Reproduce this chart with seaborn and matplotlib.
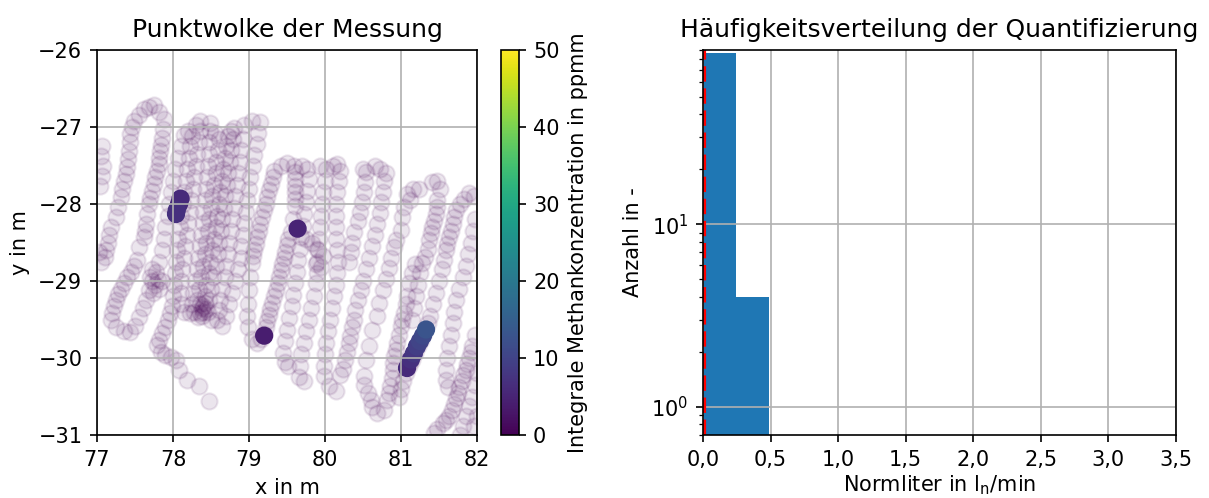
import numpy as np
import pandas as pd
import matplotlib
matplotlib.use("Agg")
import matplotlib.pyplot as plt
import seaborn as sns
from matplotlib.colors import Normalize
from matplotlib.cm import ScalarMappable

track_west = [
    # Rand links
    (77.07, -27.25), (77.05, -27.38), (77.08, -27.5), (77.06, -27.63), (77.04, -27.76),
    (77.03, -28.62), (77.05, -28.75),
    # Bahn S1
    (77.62, -26.77), (77.55, -26.84), (77.49, -26.92), (77.46, -27.0), (77.44, -27.09),
    (77.43, -27.2), (77.42, -27.31), (77.41, -27.42), (77.4, -27.52), (77.38, -27.61),
    (77.36, -27.7), (77.33, -27.8), (77.31, -27.91), (77.28, -28.04), (77.25, -28.17),
    (77.18, -28.3), (77.16, -28.4), (77.14, -28.51), (77.12, -28.6), (77.11, -28.69),
    # Bahn S2
    (77.68, -26.74), (77.75, -26.71), (77.82, -26.8), (77.88, -26.9), (77.87, -27.02),
    (77.86, -27.14), (77.84, -27.23), (77.83, -27.31), (77.82, -27.4), (77.82, -27.48),
    (77.79, -27.57), (77.77, -27.65), (77.75, -27.74), (77.73, -27.83), (77.7, -27.92),
    (77.68, -28.0), (77.66, -28.13), (77.64, -28.26), (77.63, -28.35), (77.62, -28.43),
    (77.55, -28.56), (77.53, -28.73), (77.49, -28.8), (77.45, -28.88), (77.4, -28.95),
    (77.36, -29.02), (77.32, -29.1), (77.28, -29.17), (77.25, -29.25), (77.22, -29.33),
    (77.2, -29.42), (77.18, -29.5), (77.25, -29.6), (77.35, -29.65), (77.44, -29.66),
    # Bahn S3
    (77.5, -29.58), (77.55, -29.47), (77.6, -29.35), (77.64, -29.25), (77.68, -29.12),
    (77.73, -29.0), (77.78, -28.88), (77.82, -28.75), (77.85, -28.6), (77.88, -28.45),
    (77.9, -28.3), (77.93, -28.15), (77.95, -28.0), (77.98, -27.85), (78.0, -27.7),
    (78.03, -27.55), (78.06, -27.4), (78.1, -27.25), (78.14, -27.1), (78.2, -27.05),
    (77.7, -28.95), (77.76, -29.05), (77.82, -29.1), (77.8, -28.98), (77.74, -29.15),
    (77.86, -29.0), (77.72, -28.85),
]

track_core = [
    # D2 mit Auslauf nach unten rechts
    (78.25, -27.12), (78.23, -27.25), (78.21, -27.4), (78.19, -27.55), (78.17, -27.7),
    (78.15, -27.85), (78.13, -28.0), (78.11, -28.15), (78.09, -28.3), (78.07, -28.45),
    (78.05, -28.6), (78.04, -28.75), (78.03, -28.9), (78.02, -29.05), (78.0, -29.2),
    (77.99, -29.33), (77.96, -29.42), (77.93, -29.5), (77.9, -29.6), (77.86, -29.68),
    (77.82, -29.76), (77.79, -29.83), (77.84, -29.92), (77.9, -29.96), (77.97, -29.99),
    (78.04, -30.02), (78.08, -30.15), (78.19, -30.28), (78.34, -30.37), (78.47, -30.56),
    # D3
    (78.3, -26.97), (78.36, -26.92), (78.35, -27.05), (78.34, -27.2), (78.32, -27.35),
    (78.3, -27.5), (78.28, -27.65), (78.26, -27.8), (78.24, -27.95), (78.22, -28.1),
    (78.2, -28.25), (78.18, -28.4), (78.16, -28.55), (78.14, -28.7), (78.12, -28.85),
    (78.11, -29.0), (78.1, -29.15), (78.1, -29.3), (78.15, -29.4),
    # D4
    (78.22, -29.42), (78.25, -29.3), (78.27, -29.15), (78.29, -29.0), (78.31, -28.85),
    (78.33, -28.7), (78.35, -28.55), (78.37, -28.4), (78.39, -28.25), (78.4, -28.1),
    (78.42, -27.95), (78.43, -27.8), (78.45, -27.65), (78.46, -27.5), (78.47, -27.35),
    (78.48, -27.2), (78.49, -27.05), (78.49, -26.95),
    # D5
    (78.55, -27.08), (78.6, -27.15), (78.59, -27.3), (78.57, -27.45), (78.56, -27.6),
    (78.54, -27.75), (78.52, -27.9), (78.5, -28.05), (78.48, -28.2), (78.46, -28.35),
    (78.44, -28.5), (78.42, -28.65), (78.4, -28.8), (78.37, -28.95), (78.34, -29.1),
    (78.31, -29.25), (78.28, -29.4), (78.33, -29.47),
    # D6
    (78.38, -29.45), (78.4, -29.33), (78.42, -29.2), (78.44, -29.05), (78.47, -28.9),
    (78.49, -28.75), (78.52, -28.6), (78.54, -28.45), (78.56, -28.3), (78.58, -28.15),
    (78.6, -28.0), (78.62, -27.85), (78.64, -27.7), (78.66, -27.55), (78.68, -27.4),
    (78.7, -27.25), (78.72, -27.12), (78.76, -27.05),
    # D7
    (78.8, -27.01), (78.79, -27.15), (78.77, -27.3), (78.75, -27.45), (78.73, -27.6),
    (78.71, -27.75), (78.69, -27.9), (78.67, -28.05), (78.65, -28.2), (78.63, -28.35),
    (78.61, -28.5), (78.59, -28.65), (78.56, -28.8), (78.53, -28.95), (78.5, -29.1),
    (78.48, -29.25), (78.46, -29.4), (78.5, -29.5),
    # D8
    (78.58, -29.51), (78.6, -29.38), (78.62, -29.25), (78.65, -29.1), (78.68, -28.95),
    (78.7, -28.8), (78.72, -28.65), (78.74, -28.5), (78.76, -28.35), (78.78, -28.2),
    (78.8, -28.05), (78.82, -27.9), (78.84, -27.75), (78.86, -27.6), (78.88, -27.45),
    (78.9, -27.3), (78.92, -27.15), (78.93, -26.98),
    # D9
    (79.04, -26.92), (79.15, -26.94), (79.12, -27.08), (79.1, -27.22), (79.07, -27.36),
    (79.05, -27.5), (79.02, -27.65), (79.0, -27.8), (78.98, -27.95), (78.96, -28.1),
    (78.94, -28.25), (78.92, -28.4), (78.9, -28.55), (78.89, -28.7), (78.86, -28.85),
    (78.82, -29.0), (78.78, -29.15), (78.74, -29.3), (78.7, -29.45), (78.65, -29.59),
    # dichte Stelle unten
    (78.38, -29.35), (78.4, -29.4), (78.36, -29.3), (78.42, -29.28), (78.35, -29.42),
    (78.44, -29.36),
]

track_centre = [
    # M1
    (79.33, -27.57), (79.31, -27.65), (79.29, -27.74), (79.27, -27.82), (79.24, -27.91),
    (79.22, -28.0), (79.2, -28.08), (79.17, -28.17), (79.15, -28.26), (79.13, -28.35),
    (79.11, -28.43), (79.09, -28.52), (79.07, -28.6), (79.05, -28.68), (79.04, -28.77),
    (79.02, -28.95), (79.0, -29.12), (78.99, -29.3), (78.98, -29.45), (78.99, -29.6),
    (79.04, -29.75), (79.1, -29.81),
    # M2
    (79.16, -29.75), (79.2, -29.69), (79.22, -29.6), (79.24, -29.52), (79.26, -29.44),
    (79.28, -29.36), (79.3, -29.28), (79.33, -29.2), (79.36, -29.12), (79.38, -29.03),
    (79.4, -28.95), (79.42, -28.86), (79.44, -28.78), (79.46, -28.7), (79.48, -28.62),
    (79.5, -28.53), (79.52, -28.45), (79.55, -28.37), (79.58, -28.2), (79.6, -28.03),
    (79.6, -27.94), (79.61, -27.85), (79.61, -27.77), (79.61, -27.68), (79.6, -27.59),
    (79.59, -27.5), (79.5, -27.47), (79.42, -27.5),
    # M3
    (79.7, -27.5), (79.77, -27.55), (79.79, -27.68), (79.77, -27.83), (79.75, -27.98),
    (79.73, -28.13), (79.71, -28.28), (79.69, -28.43), (79.67, -28.58), (79.65, -28.73),
    (79.63, -28.88), (79.61, -29.03), (79.58, -29.18), (79.56, -29.33), (79.53, -29.48),
    (79.5, -29.63), (79.47, -29.78), (79.45, -29.93), (79.47, -30.05), (79.51, -30.11),
    # Haken
    (79.75, -28.45), (79.83, -28.5), (79.9, -28.58), (79.97, -28.68), (79.95, -28.82),
    (79.88, -28.78),
    # M4
    (79.93, -27.5), (80.01, -27.55), (80.0, -27.7), (79.98, -27.85), (79.96, -28.0),
    (79.95, -28.15), (79.93, -28.3), (79.92, -28.45), (79.91, -28.6), (79.9, -28.75),
    (79.9, -28.9), (79.88, -29.03), (79.85, -29.2), (79.82, -29.35), (79.79, -29.5),
    (79.75, -29.65), (79.72, -29.8), (79.69, -29.95), (79.67, -30.1), (79.66, -30.25),
    (79.72, -30.3),
    # M5
    (80.1, -27.5), (80.16, -27.48), (80.2, -27.57), (80.18, -27.7), (80.16, -27.85),
    (80.15, -28.0), (80.15, -28.15), (80.14, -28.3), (80.15, -28.45), (80.16, -28.6),
    (80.17, -28.75), (80.16, -28.9), (80.14, -29.05), (80.12, -29.2), (80.09, -29.35),
    (80.06, -29.5), (80.04, -29.65), (80.02, -29.8), (80.0, -29.95), (79.99, -30.1),
    (79.99, -30.24), (80.05, -30.36), (80.14, -30.43),
]

track_east = [
    # N1
    (80.5, -27.55), (80.54, -27.59), (80.53, -27.72), (80.52, -27.85), (80.49, -27.98),
    (80.46, -28.1), (80.44, -28.22), (80.38, -28.36), (80.36, -28.5), (80.34, -28.62),
    (80.32, -28.75),
    # N2
    (80.66, -27.5), (80.73, -27.55), (80.8, -27.6), (80.78, -27.7), (80.76, -27.84),
    (80.74, -27.98), (80.72, -28.12), (80.69, -28.26), (80.66, -28.4), (80.62, -28.54),
    (80.58, -28.7), (80.54, -28.85), (80.5, -29.0), (80.47, -29.12), (80.44, -29.25),
    (80.4, -29.38), (80.38, -29.5), (80.36, -29.6), (80.33, -29.72), (80.31, -29.81),
    (80.29, -29.92), (80.27, -30.03), (80.24, -30.14), (80.2, -30.22),
    # Z2
    (81.08, -27.87), (81.16, -27.8), (81.24, -27.8), (81.12, -27.95), (81.04, -28.04),
    (81.02, -28.17), (81.0, -28.34), (80.93, -28.47), (80.91, -28.56), (80.87, -28.7),
    (80.84, -28.83), (80.8, -28.97), (80.76, -29.12), (80.71, -29.29), (80.69, -29.46),
    (80.62, -29.63), (80.58, -29.85), (80.54, -30.02), (80.51, -30.24), (80.52, -30.35),
    (80.56, -30.45), (80.6, -30.55), (80.62, -30.63), (80.69, -30.71), (80.78, -30.67),
    # N3
    (80.82, -30.54), (80.84, -30.45), (80.86, -30.37), (80.88, -30.26), (80.89, -30.15),
    (80.9, -30.07), (80.91, -29.98), (80.93, -29.9), (80.95, -29.81), (80.97, -29.7),
    (81.0, -29.59), (81.02, -29.5), (81.04, -29.42), (81.06, -29.3), (81.08, -29.2),
    (81.1, -29.03), (81.14, -28.9), (81.18, -28.78),
    # Z3
    (81.41, -27.72), (81.47, -27.7), (81.52, -27.8), (81.48, -27.95), (81.47, -28.04),
    (81.46, -28.13), (81.44, -28.22), (81.41, -28.3), (81.39, -28.38), (81.37, -28.47),
    (81.35, -28.58), (81.32, -28.69), (81.28, -28.77), (81.25, -28.9), (81.22, -29.05),
    (81.2, -29.2), (81.17, -29.35), (81.15, -29.5),
    # Z4
    (81.83, -27.93), (81.9, -27.86), (81.96, -27.89), (81.78, -28.0), (81.72, -28.08),
    (81.7, -28.17), (81.68, -28.26), (81.66, -28.35), (81.63, -28.43), (81.61, -28.52),
    (81.59, -28.6), (81.57, -28.73), (81.54, -28.85), (81.5, -29.0), (81.46, -29.15),
    (81.42, -29.3), (81.38, -29.45), (81.35, -29.55), (81.3, -29.67), (81.26, -29.76),
    (81.22, -29.85), (81.18, -29.93), (81.14, -30.02), (81.1, -30.1), (81.06, -30.2),
    (81.03, -30.3), (81.0, -30.4), (80.97, -30.5),
    # Z5
    (81.98, -28.2), (81.95, -28.35), (81.92, -28.5), (81.88, -28.65), (81.85, -28.8),
    (81.81, -28.95), (81.77, -29.1), (81.72, -29.25), (81.7, -29.4), (81.68, -29.55),
    (81.66, -29.7), (81.63, -29.85), (81.6, -30.0), (81.59, -30.15), (81.59, -30.28),
    (81.62, -30.38),
    # Z6
    (81.97, -29.7), (81.94, -29.85), (81.92, -29.92), (81.9, -30.0), (81.87, -30.08),
    (81.85, -30.15), (81.82, -30.22), (81.8, -30.3), (81.77, -30.38), (81.75, -30.45),
    (81.72, -30.52), (81.7, -30.6), (81.67, -30.68), (81.63, -30.75), (81.59, -30.8),
    (81.55, -30.85), (81.48, -30.92), (81.43, -30.97),
    # Z7
    (82.0, -30.2), (81.97, -30.35), (81.94, -30.5), (81.9, -30.62), (81.86, -30.75),
    (81.82, -30.88), (81.78, -31.0), (82.0, -30.75), (81.96, -30.88),
]

# Punkte mit erhöhter Konzentration
hot_x = [78.1, 78.08, 78.05, 78.04, 79.64, 79.2, 81.08, 81.13, 81.17, 81.21, 81.25, 81.29, 81.33]
hot_y = [-27.93, -28.0, -28.08, -28.13, -28.32, -29.71, -30.13, -30.02, -29.94, -29.85, -29.78, -29.71, -29.63]
hot_ppmm = [6, 6, 7, 7, 5, 4, 6, 7, 8, 9, 10, 11, 13]

# Histogramm der Quantifizierung
quant_bin_edges = [0.0, 0.245, 0.49]
quant_counts = [87, 4]
reference_rate = 0.01
hist_xticks = [0.0, 0.5, 1.0, 1.5, 2.0, 2.5, 3.0, 3.5]
hist_xticklabels = ['0,0', '0,5', '1,0', '1,5', '2,0', '2,5', '3,0', '3,5']


def main():
    df_faint = pd.DataFrame(track_west + track_core + track_centre + track_east, columns=['x', 'y'])
    df_hot = pd.DataFrame({'x': hot_x, 'y': hot_y, 'ppmm': hot_ppmm})
    edges = np.array(quant_bin_edges)
    df_hist = pd.DataFrame({'rate': (edges[:-1] + edges[1:]) / 2, 'n': quant_counts})

    fig = plt.figure(figsize=(8.06, 3.32), dpi=150)
    ax1 = fig.add_axes([0.0802, 0.1265, 0.3143, 0.7731])
    cax = fig.add_axes([0.4140, 0.1265, 0.0149, 0.7731])
    ax2 = fig.add_axes([0.5815, 0.1265, 0.3912, 0.7731])

    # --- Punktwolke ---
    sns.scatterplot(data=df_faint, x='x', y='y', color=plt.cm.viridis(0.0), s=60,
                    alpha=0.1, edgecolor='face', linewidth=1.0, ax=ax1, legend=False)
    sns.scatterplot(data=df_hot, x='x', y='y', hue='ppmm', palette='viridis',
                    hue_norm=(0, 50), s=60, alpha=1.0, edgecolor='face',
                    linewidth=1.0, ax=ax1, legend=False)
    ax1.set_xlim(77, 82)
    ax1.set_ylim(-31, -26)
    ax1.set_xticks(range(77, 83))
    ax1.set_yticks(range(-31, -25))
    ax1.grid(True)
    ax1.set_title('Punktwolke der Messung')
    ax1.set_xlabel('x in m')
    ax1.set_ylabel('y in m')

    cbar = fig.colorbar(ScalarMappable(norm=Normalize(0, 50), cmap='viridis'), cax=cax)
    cbar.set_label('Integrale Methankonzentration in ppmm')

    # --- Histogramm ---
    sns.histplot(data=df_hist, x='rate', weights='n', bins=quant_bin_edges,
                 color='#1f77b4', alpha=1.0, edgecolor='none', linewidth=0, ax=ax2)
    ax2.set_yscale('log')
    ax2.set_ylim(0.70, 90)
    ax2.set_xlim(0, 3.5)
    ax2.axvline(reference_rate, color='red', linestyle='--', linewidth=2)
    ax2.set_xticks(hist_xticks)
    ax2.set_xticklabels(hist_xticklabels)
    ax2.grid(True)
    ax2.set_title('Häufigkeitsverteilung der Quantifizierung')
    ax2.set_xlabel(r'Normliter in l$_\mathrm{n}$/min', labelpad=2)
    ax2.set_ylabel('Anzahl in -')

    fig.savefig('out.png', dpi=150)
    plt.close(fig)


if __name__ == '__main__':
    main()
